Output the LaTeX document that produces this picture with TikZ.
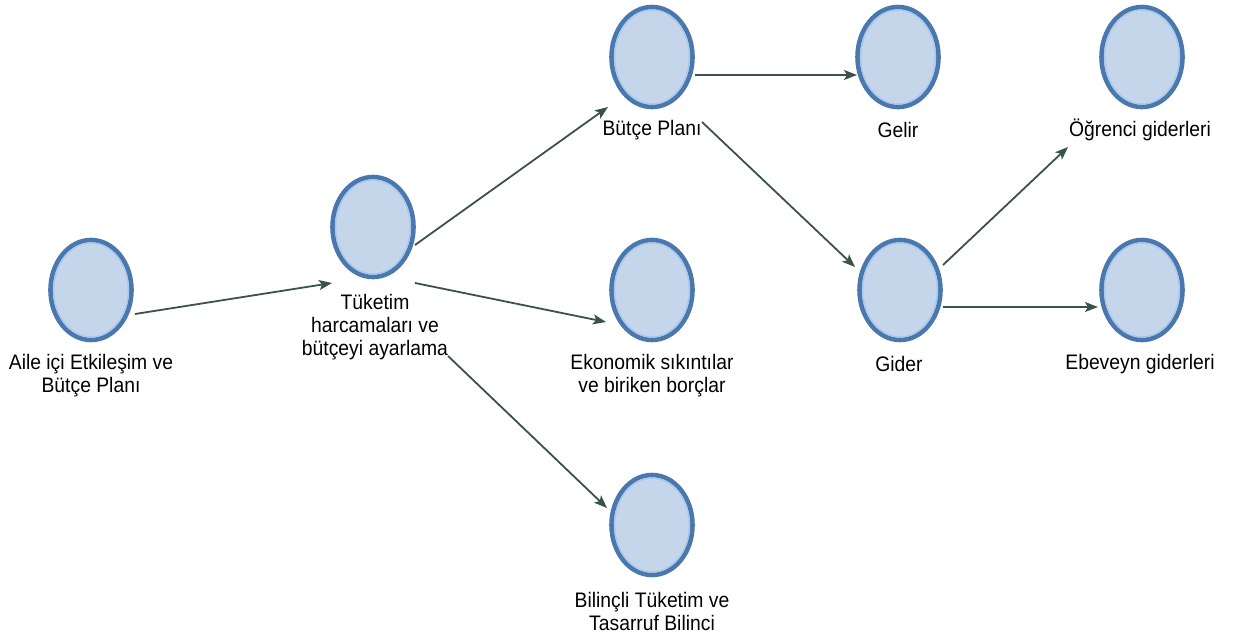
\documentclass[tikz,border=0pt]{standalone}
\usepackage{fontspec}
\setmainfont[FakeStretch=0.92]{Liberation Sans}
\usetikzlibrary{shapes.geometric,arrows.meta,calc}
\definecolor{nodefill}{HTML}{C6D6EA}
\definecolor{nodeline}{HTML}{4A78AD}
\definecolor{nodeglow}{HTML}{A9C8EE}
\definecolor{arrowcol}{HTML}{3B5249}
\tikzset{
  bubble/.style={ellipse, fill=nodefill, draw=nodeline, line width=4.6pt,
    minimum width=81pt, minimum height=100pt, inner sep=0pt},
  lbl/.style={align=center, inner sep=0pt,
    font=\fontsize{21pt}{23pt}\selectfont},
  arr/.style={draw=arrowcol, line width=1.8pt,
    -{Stealth[length=13pt,width=10pt,inset=3pt]}},
  glow/.style={draw=nodeglow, line width=1.5pt}
}
\begin{document}
\begin{tikzpicture}[x=1pt,y=-1pt]
\useasboundingbox (0,0) rectangle (1239,639);

\node[bubble] (n1) at (91,290) {};
\node[bubble] (n2) at (373,227) {};
\node[bubble] (n3) at (652,57) {};
\node[bubble] (n4) at (898,57) {};
\node[bubble] (n5) at (1142,57) {};
\node[bubble] (n6) at (652,290) {};
\node[bubble] (n7) at (900,290) {};
\node[bubble] (n8) at (1142,290) {};
\node[bubble] (n9) at (652,525) {};

\foreach \n in {n1,n2,n3,n4,n5,n6,n7,n8,n9}
  \draw[glow] (\n.center) ellipse [x radius=37.4pt, y radius=47pt];

\node[lbl] (l1) at ($(n1)+(0,86)$) {Aile içi Etkileşim ve\\Bütçe Planı};
\node[lbl] (l2) at ($(n2)+(2,100)$) {Tüketim\\harcamaları ve\\bütçeyi ayarlama};
\node[lbl] (l3) at ($(n3)+(0,73)$) {Bütçe Planı};
\node[lbl] (l4) at ($(n4)+(0,73)$) {Gelir};
\node[lbl] (l5) at ($(n5)+(-2,73)$) {Öğrenci giderleri};
\node[lbl] (l6) at ($(n6)+(0,86)$) {Ekonomik sıkıntılar\\ve biriken borçlar};
\node[lbl] (l7) at ($(n7)+(-1,74)$) {Gider};
\node[lbl] (l8) at ($(n8)+(-2,74)$) {Ebeveyn giderleri};
\node[lbl] (l9) at ($(n9)+(0,86)$) {Bilinçli Tüketim ve\\Tasarruf Bilinci};

\draw[arr] ($(n1)+(44,24)$) -- ($(n2)+(-41,56)$);
\draw[arr] ($(n2)+(42,18)$) -- ($(n3)+(-44,50)$);
\draw[arr] ($(n2)+(42,56)$) -- ($(n6)+(-46,32)$);
\draw[arr] ($(n2)+(75,129)$) -- ($(n9)+(-45,-17)$);
\draw[arr] ($(n3)+(43,18)$) -- ($(n4)+(-41,18)$);
\draw[arr] ($(n3)+(50,65)$) -- ($(n7)+(-45,-23)$);
\draw[arr] ($(n7)+(43,-25)$) -- ($(n5)+(-74,90)$);
\draw[arr] ($(n7)+(43,17)$) -- ($(n8)+(-44,17)$);
\end{tikzpicture}
\end{document}
